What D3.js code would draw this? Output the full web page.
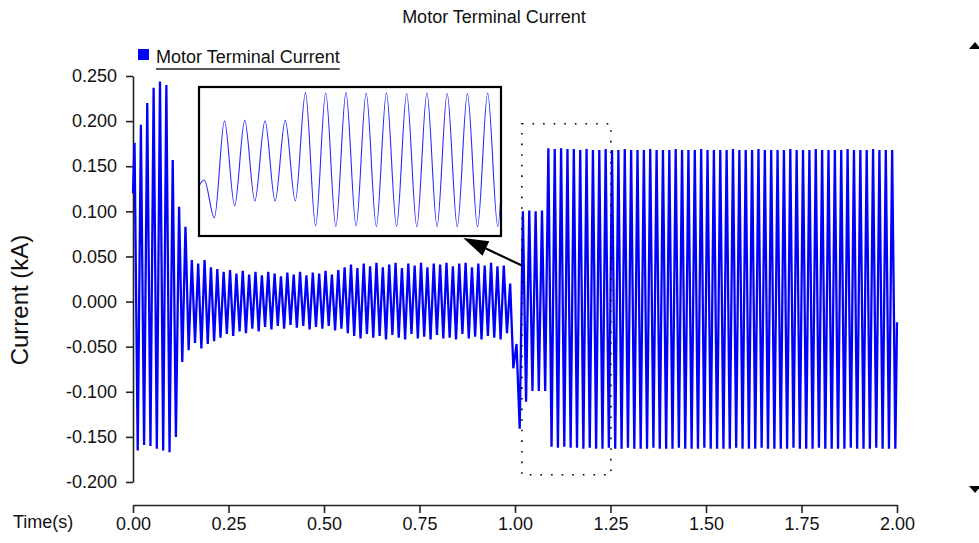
<!DOCTYPE html>
<html>
<head>
<meta charset="utf-8">
<script src="https://cdn.jsdelivr.net/npm/d3@7"></script>
<style>
  html, body { margin: 0; padding: 0; background: #fff; }
  svg { display: block; font-family: "Liberation Sans", Arial, sans-serif; }
</style>
</head>
<body>
<svg id="chart" width="979" height="543"></svg>
<script>
// ---- labels and ticks ----
const chartTitle = "Motor Terminal Current";
const seriesName = "Motor Terminal Current";
const xLabel = "Time(s)";
const yLabel = "Current (kA)";
const yTicks = [-0.2, -0.15, -0.1, -0.05, 0, 0.05, 0.1, 0.15, 0.2, 0.25];
const xTicks = [0, 0.25, 0.5, 0.75, 1, 1.25, 1.5, 1.75, 2];

// ---- waveform: one peak and one trough per 60 Hz cycle (kA) ----
const cycle = 1 / 60;          // s
const firstPeak = 0.004;       // time of the first peak, s
const startValue = 0.120;      // value at t = 0
const endValue = -0.023;       // value at t = 2 s

// starting transient
const startupPeaks   = [0.176, 0.196, 0.220, 0.237, 0.244, 0.240, 0.157, 0.105, 0.083, 0.046];
const startupTroughs = [-0.165, -0.159, -0.160, -0.163, -0.165, -0.167, -0.150, -0.067, -0.054, -0.046];

// light running, 0.17 s .. 1.0 s
const runPeaks = [
  0.042, 0.046, 0.038, 0.036, 0.033, 0.035, 0.031, 0.034, 0.030, 0.033,
  0.029, 0.033, 0.031, 0.028, 0.032, 0.030, 0.033, 0.029, 0.032, 0.031,
  0.034, 0.030, 0.035, 0.038, 0.041, 0.037, 0.042, 0.039, 0.043, 0.038,
  0.041, 0.043, 0.037, 0.042, 0.040, 0.043, 0.038, 0.042, 0.041, 0.043,
  0.039, 0.042, 0.043, 0.038, 0.042, 0.040, 0.043, 0.039, 0.040, 0.020
];
const runTroughs = [
  -0.052, -0.047, -0.044, -0.040, -0.036, -0.038, -0.033, -0.035, -0.030, -0.033,
  -0.028, -0.031, -0.027, -0.030, -0.026, -0.029, -0.027, -0.031, -0.028, -0.030,
  -0.027, -0.032, -0.030, -0.035, -0.038, -0.041, -0.036, -0.040, -0.038, -0.042,
  -0.037, -0.040, -0.042, -0.036, -0.041, -0.039, -0.042, -0.037, -0.041, -0.040,
  -0.042, -0.036, -0.041, -0.039, -0.042, -0.038, -0.040, -0.042, -0.035, -0.074
];

// load step at 1.0 s
const faultPeaks   = [-0.047, 0.100, 0.101, 0.100, 0.101];
const faultTroughs = [-0.141, -0.111, -0.099, -0.099, -0.099];

// full load, 1.09 s .. 2.0 s
const steadyPeaks = [
  0.170, 0.169, 0.170, 0.169, 0.169, 0.168, 0.169, 0.168, 0.168, 0.169,
  0.168, 0.168, 0.169, 0.168, 0.168, 0.168, 0.169, 0.168, 0.168, 0.168,
  0.169, 0.168, 0.168, 0.168, 0.169, 0.168, 0.168, 0.168, 0.168, 0.169,
  0.168, 0.168, 0.168, 0.169, 0.168, 0.168, 0.168, 0.168, 0.169, 0.168,
  0.168, 0.168, 0.169, 0.168, 0.168, 0.168, 0.168, 0.169, 0.168, 0.168,
  0.168, 0.169, 0.168, 0.168, 0.168
];
const steadyTroughs = [
  -0.161, -0.162, -0.161, -0.162, -0.162, -0.163, -0.162, -0.163, -0.163, -0.162,
  -0.163, -0.163, -0.162, -0.163, -0.163, -0.163, -0.162, -0.163, -0.163, -0.163,
  -0.162, -0.163, -0.163, -0.163, -0.162, -0.163, -0.163, -0.163, -0.163, -0.162,
  -0.163, -0.163, -0.163, -0.162, -0.163, -0.163, -0.163, -0.163, -0.162, -0.163,
  -0.163, -0.163, -0.162, -0.163, -0.163, -0.163, -0.163, -0.162, -0.163, -0.163,
  -0.163, -0.162, -0.163, -0.163, -0.163
];

// zoomed window (time, s / current, kA)
const zoomTime = [1.018, 1.251];
const zoomCurrent = [-0.192, 0.197];
const insetTime = [1.0005, 1.2475];
const insetCurrent = [-0.186, 0.184];
const pointerCurrent = 0.040;

// ---- build the point list ----
const peaks = [].concat(startupPeaks, runPeaks, faultPeaks, steadyPeaks);
const troughs = [].concat(startupTroughs, runTroughs, faultTroughs, steadyTroughs);
const points = [{ t: 0, v: startValue }];
peaks.forEach((p, i) => {
  points.push({ t: firstPeak + i * cycle, v: p });
  points.push({ t: firstPeak + (i + 0.5) * cycle, v: troughs[i] });
});
points.push({ t: 2, v: endValue });

// ---- layout ----
const svg = d3.select("#chart");
const plot = { left: 133, right: 897, top: 76, bottom: 482, xAxisY: 505 };
const inset = { x: 199, y: 87, w: 302, h: 149 };
const blue = "#0000ff";
const ink = "#111";

const x = d3.scaleLinear().domain([0, 2]).range([plot.left, plot.right]);
const y = d3.scaleLinear().domain([-0.2, 0.25]).range([plot.bottom, plot.top]);

const loc = d3.formatLocale({ decimal: ".", thousands: ",", grouping: [3], currency: ["", ""], minus: "-" });

// ---- title ----
svg.append("text")
  .attr("x", 494).attr("y", 23)
  .attr("text-anchor", "middle")
  .attr("font-size", 18).attr("fill", ink)
  .text(chartTitle);

// ---- legend ----
svg.append("rect").attr("x", 138).attr("y", 49).attr("width", 11).attr("height", 11).attr("fill", blue);
const legText = svg.append("text")
  .attr("x", 156).attr("y", 63)
  .attr("font-size", 18).attr("fill", ink)
  .text(seriesName);
const legW = legText.node().getComputedTextLength();
svg.append("line")
  .attr("x1", 156).attr("x2", 156 + legW)
  .attr("y1", 69).attr("y2", 69)
  .attr("stroke", "#222").attr("stroke-width", 1.6);

// ---- axes ----
function styleAxis(g) {
  g.select(".domain").attr("stroke", "#222").attr("stroke-width", 1.6);
  g.selectAll(".tick line").attr("stroke", "#222").attr("stroke-width", 1.6);
  g.selectAll(".tick text").attr("fill", ink).attr("font-size", 18)
    .attr("font-family", "'Liberation Sans', Arial, sans-serif");
}

svg.append("g")
  .attr("transform", `translate(${plot.left},0)`)
  .call(d3.axisLeft(y).tickValues(yTicks).tickSize(7).tickSizeOuter(0).tickPadding(9)
    .tickFormat(loc.format(".3f")))
  .call(styleAxis);

svg.append("g")
  .attr("transform", `translate(0,${plot.xAxisY})`)
  .call(d3.axisBottom(x).tickValues(xTicks).tickSize(8).tickSizeOuter(0).tickPadding(4)
    .tickFormat(loc.format(".2f")))
  .call(styleAxis);

svg.append("text")
  .attr("x", 13).attr("y", 528)
  .attr("font-size", 18).attr("fill", ink)
  .text(xLabel);

svg.append("text")
  .attr("transform", `translate(28,300) rotate(-90)`)
  .attr("text-anchor", "middle")
  .attr("font-size", 24).attr("fill", ink)
  .text(yLabel);

// ---- waveform ----
const line = d3.line().x(d => x(d.t)).y(d => y(d.v));
svg.append("path")
  .datum(points)
  .attr("d", line)
  .attr("fill", "none")
  .attr("stroke", blue)
  .attr("stroke-width", 2.3)
  .attr("stroke-linejoin", "bevel");

// ---- dotted zoom window ----
svg.append("rect")
  .attr("x", x(zoomTime[0])).attr("y", y(zoomCurrent[1]))
  .attr("width", x(zoomTime[1]) - x(zoomTime[0]))
  .attr("height", y(zoomCurrent[0]) - y(zoomCurrent[1]))
  .attr("fill", "none").attr("stroke", "#000")
  .attr("stroke-width", 1.6).attr("stroke-dasharray", "1.6 9");

// ---- pointer arrow from window to inset ----
const from = [x(zoomTime[0]), y(pointerCurrent)];
const tip = [inset.x + inset.w * 0.875, inset.y + inset.h + 2];
const dx = from[0] - tip[0], dy = from[1] - tip[1];
const len = Math.hypot(dx, dy);
const ux = dx / len, uy = dy / len;
const headL = 25, headW = 8;
const base = [tip[0] + ux * headL, tip[1] + uy * headL];
svg.append("line")
  .attr("x1", from[0]).attr("y1", from[1])
  .attr("x2", base[0]).attr("y2", base[1])
  .attr("stroke", "#000").attr("stroke-width", 2.2);
svg.append("polygon")
  .attr("points", [
    tip,
    [base[0] - uy * headW, base[1] + ux * headW],
    [base[0] + uy * headW, base[1] - ux * headW]
  ].map(p => p.join(",")).join(" "))
  .attr("fill", "#000");

// ---- inset ----
svg.append("rect")
  .attr("x", inset.x).attr("y", inset.y).attr("width", inset.w).attr("height", inset.h)
  .attr("fill", "#fff").attr("stroke", "#000").attr("stroke-width", 2.2);

svg.append("clipPath").attr("id", "inset-clip")
  .append("rect")
  .attr("x", inset.x + 1).attr("y", inset.y + 1)
  .attr("width", inset.w - 2).attr("height", inset.h - 2);

const xi = d3.scaleLinear().domain(insetTime).range([inset.x + 1, inset.x + inset.w - 1]);
const yi = d3.scaleLinear().domain(insetCurrent).range([inset.y + inset.h, inset.y]);
const insetPts = points.filter(d => d.t > insetTime[0] - 0.02 && d.t < insetTime[1] + 0.02);
svg.append("path")
  .datum(insetPts)
  .attr("clip-path", "url(#inset-clip)")
  .attr("d", d3.line().curve(d3.curveMonotoneX).x(d => xi(d.t)).y(d => yi(d.v)))
  .attr("fill", "none")
  .attr("stroke", "#2a2aff")
  .attr("stroke-width", 1.1);

// ---- scroll markers at the right edge ----
svg.append("polygon").attr("points", "969,49 975,42 981,49").attr("fill", "#000");
svg.append("polygon").attr("points", "969,486 975,493 981,486").attr("fill", "#000");
</script>
</body>
</html>
